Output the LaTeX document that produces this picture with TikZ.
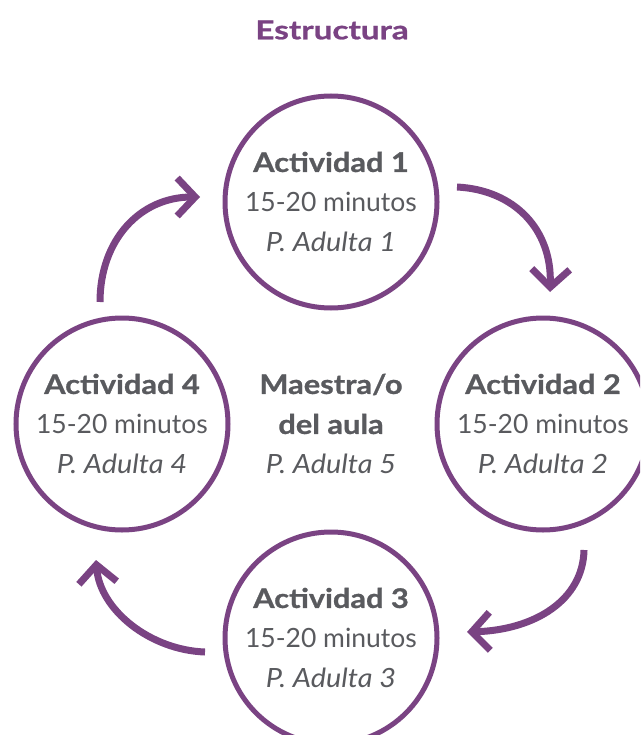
\documentclass[tikz,border=0pt]{standalone}
\usepackage{fontspec}
\setmainfont{Lato}[ItalicFeatures={FakeStretch=1.09}, BoldFeatures={FakeStretch=1.14, FakeBold=1}]
\newfontfamily\ttlfont{Lato}[FakeStretch=1.28, BoldFeatures={FakeBold=1}]
\usetikzlibrary{arrows.meta}
\definecolor{pur}{HTML}{7A4383}
\definecolor{txt}{HTML}{595A5E}
\newcommand{\hd}[1]{{\fontsize{27}{40}\selectfont\bfseries #1}}
\newcommand{\pa}[1]{{\itshape #1}}
\begin{document}
\begin{tikzpicture}[x=1pt,y=-1pt,
  act/.style={circle, draw=pur, line width=5pt, minimum size=212pt, inner sep=0pt,
    align=center, text=txt, font=\fontsize{26.5}{40}\selectfont},
  mid/.style={align=center, text=txt, font=\fontsize{26.5}{40}\selectfont},
  ttl/.style={text=pur, font=\ttlfont\fontsize{26}{32}\selectfont\bfseries},
  flow/.style={draw=pur, line width=7pt, -{Straight Barb[length=18pt,width=38pt]}}]
\clip (0,0) rectangle (640,735);
\node[ttl] (t) at (332,30) {Estructura};
\node[act] (a1) at (331,202) {\hd{Actividad 1}\\15-20 minutos\\\pa{P. Adulta 1}};
\node[act] (a2) at (543,424) {\hd{Actividad 2}\\15-20 minutos\\\pa{P. Adulta 2}};
\node[act] (a3) at (331,638) {\hd{Actividad 3}\\15-20 minutos\\\pa{P. Adulta 3}};
\node[act] (a4) at (122,424) {\hd{Actividad 4}\\15-20 minutos\\\pa{P. Adulta 4}};
\node[mid] (m) at (331,424) {\hd{Maestra/o}\\\hd{del aula}\\\pa{P. Adulta 5}};
\coordinate (s1) at (457,187); \coordinate (e1) at (550,292);
\coordinate (s2) at (584,550); \coordinate (e2) at (467,632);
\coordinate (s3) at (205,652); \coordinate (e3) at (96,560);
\coordinate (s4) at (100,302); \coordinate (e4) at (200,197);
\draw[flow] (s1) .. controls (515,190) and (552,230) .. (e1);
\draw[flow] (s2) .. controls (583,600) and (535,630) .. (e2);
\draw[flow] (s3) .. controls (150,650) and (100,610) .. (e3);
\draw[flow] (s4) .. controls (100,240) and (140,197) .. (e4);
\end{tikzpicture}
\end{document}
